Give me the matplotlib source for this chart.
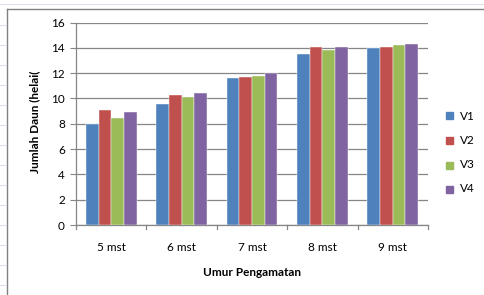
import matplotlib
matplotlib.use("Agg")
import matplotlib.pyplot as plt
import numpy as np
from matplotlib.lines import Line2D

categories = ["5 mst", "6 mst", "7 mst", "8 mst", "9 mst"]
series_names = ["V1", "V2", "V3", "V4"]
V1 = [8.0, 9.6, 11.6, 13.5, 14.0]
V2 = [9.05, 10.25, 11.7, 14.05, 14.05]
V3 = [8.45, 10.1, 11.8, 13.85, 14.2]
V4 = [8.9, 10.4, 12.0, 14.05, 14.3]
yticks = [0, 2, 4, 6, 8, 10, 12, 14, 16]
colors = ["#4F81BD", "#C0504D", "#9BBB59", "#8064A2"]

plt.rcParams['font.family'] = ['Lato', 'DejaVu Sans']

W, H = 485, 295
fig = plt.figure(figsize=(W/100, H/100), dpi=100)
ax = fig.add_axes([76/W, 1-225/H, (428-76)/W, (225-22.5)/H])

data = [V1, V2, V3, V4]
x = np.arange(len(categories))
bw = 0.18
for i, (name, vals) in enumerate(zip(series_names, data)):
    ax.bar(x + (i-1.5)*bw, vals, bw, color=colors[i], label=name, zorder=3,
           edgecolor='white', linewidth=0.3)

ax.set_xlim(-0.5, len(categories)-0.5)
ax.set_ylim(0, 16)
ax.set_yticks(yticks)
ax.set_yticklabels([str(t) for t in yticks], fontsize=8.5)
ax.set_xticks(x)
ax.set_xticklabels(categories, fontsize=8.5)
ax.tick_params(axis='x', length=0, pad=12)
ax.tick_params(axis='y', length=4, color='#868686', pad=4)
for xb in np.arange(-0.5, len(categories), 1.0):
    ax.plot([xb, xb], [0, -0.35], color='#868686', lw=0.9, clip_on=False, zorder=4)
ax.grid(axis='y', color='#868686', lw=0.9, zorder=0)
for s in ['top', 'right']:
    ax.spines[s].set_visible(False)
ax.spines['left'].set_color('#868686')
ax.spines['bottom'].set_color('#868686')
ax.spines['left'].set_linewidth(0.9)
ax.spines['bottom'].set_linewidth(0.9)

fig.text(252/W, 1-272/H, "Umur Pengamatan", ha='center', va='center', fontsize=8.5, fontweight='bold')
fig.text(35/W, 1-122/H, "Jumlah Daun (helai(", ha='center', va='center', rotation=90, fontsize=8.5, fontweight='bold')

# legend
leg_y = [116, 140.5, 165, 189]
for i, name in enumerate(series_names):
    fig.patches.append(plt.Rectangle((446/W, 1-(leg_y[i]+3.5)/H), 7/W, 7/H, transform=fig.transFigure,
                                     color=colors[i], figure=fig))
    fig.text(460/W, 1-leg_y[i]/H, name, ha='left', va='center', fontsize=8.5)

# chart border (Excel frame)
fig.add_artist(Line2D([7.5/W, 7.5/W], [0, 1-8.5/H], transform=fig.transFigure, color='#808080', lw=1))
fig.add_artist(Line2D([7.5/W, 1], [1-8.5/H, 1-8.5/H], transform=fig.transFigure, color='#808080', lw=1))
fig.add_artist(Line2D([0, 1], [1-4/H, 1-4/H], transform=fig.transFigure, color='#dbe0ee', lw=0.8))
for yy in [25, 45, 65, 85, 105, 125, 145, 165, 185, 205, 225, 245, 265, 285]:
    fig.add_artist(Line2D([0, 6/W], [1-yy/H, 1-yy/H], transform=fig.transFigure, color='#dbe0ee', lw=0.8))

fig.savefig("out.png", dpi=100, facecolor='white')
